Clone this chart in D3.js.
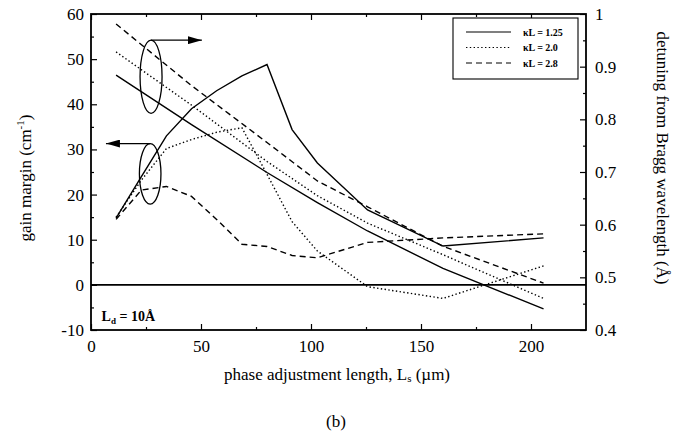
<!DOCTYPE html>
<html>
<head>
<meta charset="utf-8">
<script src="https://cdn.jsdelivr.net/npm/d3@7"></script>
<style>
  body { margin: 0; background: #fff; }
  text { font-family: "Liberation Serif", "DejaVu Serif", serif; fill: #000; }
</style>
</head>
<body>
<div id="chart"></div>
<script>
// phase adjustment length samples (um)
var lsGain = [11.4, 22.9, 34.3, 45.7, 57.1, 68.6, 80, 91.4, 102.9, 125.7, 160, 205.7];
var gain125 = [14.8, 24, 33, 39, 43, 46.3, 48.8, 34.4, 27, 16.6, 8.6, 10.4];
var gain20  = [15, 23.2, 30.2, 32.2, 33.8, 34.8, 24.5, 14, 7.5, -0.4, -3, 4.2];
var gain28  = [14.5, 21, 21.8, 19.6, 14.5, 9, 8.5, 6.5, 6, 9.4, 10.4, 11.3];

var lsDet = [11.4, 45.7, 80, 102.9, 125.7, 160, 205.7];
var det125 = [0.884, 0.790, 0.699, 0.642, 0.588, 0.517, 0.44];
var det20  = [0.928, 0.827, 0.720, 0.655, 0.603, 0.543, 0.46];
var det28  = [0.981, 0.864, 0.756, 0.683, 0.634, 0.559, 0.489];

var seriesNames = ["\u03baL = 1.25", "\u03baL = 2.0", "\u03baL = 2.8"];
var xTicks = [0, 50, 100, 150, 200];
var yLeftTicks = [-10, 0, 10, 20, 30, 40, 50, 60];
var yRightTicks = [0.4, 0.5, 0.6, 0.7, 0.8, 0.9, 1];

function getConfig(){
    let width = 677, height = 432;
    let margin = {top: 14, right: 91, bottom: 102, left: 91};
    let plot = {};
    plot.w = width - margin.left - margin.right;
    plot.h = height - margin.top - margin.bottom;
    plot.dash = ["none", "1.4,2.4", "6,4"];
    return {width, height, margin, plot};
}

var config = getConfig();
var m = config.margin, pw = config.plot.w, ph = config.plot.h;

var svg = d3.select("#chart").append("svg")
    .attr("width", config.width)
    .attr("height", config.height);

var defs = svg.append("defs");
defs.append("marker").attr("id", "arrow")
    .attr("viewBox", "0 0 14 8").attr("refX", 14).attr("refY", 4)
    .attr("markerWidth", 14).attr("markerHeight", 8)
    .attr("markerUnits", "userSpaceOnUse").attr("orient", "auto")
    .append("path").attr("d", "M0,0 L14,4 L0,8 Z").attr("fill", "#000");

var xScale = d3.scaleLinear().domain([0, 225]).range([0, pw]);
var yL = d3.scaleLinear().domain([-10, 60]).range([ph, 0]);
var yR = d3.scaleLinear().domain([0.4, 1]).range([ph, 0]);

var g = svg.append("g").attr("transform", `translate(${m.left},${m.top})`);

// axes, ticks pointing inward
function styleAx(sel){
    sel.call(s => s.select(".domain").remove());
    sel.selectAll(".tick line").attr("stroke", "#000").attr("stroke-width", 1.2);
    sel.selectAll(".tick text").attr("font-size", 17).attr("fill", "#000")
       .style("font-family", '"Liberation Serif", serif');
}
var minorX = d3.range(25, 225, 50);
var minorL = d3.range(-5, 60, 10);
var minorR = d3.range(0.45, 1, 0.1);

g.append("g").attr("transform", `translate(0,${ph})`)
    .call(d3.axisBottom(xScale).tickValues(xTicks).tickSize(-6).tickPadding(10)).call(styleAx);
g.append("g").attr("transform", `translate(0,${ph})`)
    .call(d3.axisBottom(xScale).tickValues(minorX).tickSize(-3).tickFormat("")).call(styleAx);
g.append("g")
    .call(d3.axisTop(xScale).tickValues(xTicks).tickSize(-6).tickFormat("")).call(styleAx);
g.append("g")
    .call(d3.axisTop(xScale).tickValues(minorX).tickSize(-3).tickFormat("")).call(styleAx);

g.append("g")
    .call(d3.axisLeft(yL).tickValues(yLeftTicks).tickSize(-6).tickPadding(7)
          .tickFormat(d => String(d))).call(styleAx);
g.append("g")
    .call(d3.axisLeft(yL).tickValues(minorL).tickSize(-3).tickFormat("")).call(styleAx);

g.append("g").attr("transform", `translate(${pw},0)`)
    .call(d3.axisRight(yR).tickValues(yRightTicks).tickSize(-6).tickPadding(9)
          .tickFormat(d => d === 1 ? "1" : d.toFixed(1))).call(styleAx);
g.append("g").attr("transform", `translate(${pw},0)`)
    .call(d3.axisRight(yR).tickValues(minorR).tickSize(-3).tickFormat("")).call(styleAx);

// frame
g.append("rect").attr("width", pw).attr("height", ph)
    .attr("fill", "none").attr("stroke", "#000").attr("stroke-width", 1.8);

// zero gain line
g.append("line")
    .attr("x1", 0).attr("x2", pw)
    .attr("y1", yL(0)).attr("y2", yL(0))
    .attr("stroke", "#000").attr("stroke-width", 1.6);

// curves
var gainSeries = [gain125, gain20, gain28];
var detSeries = [det125, det20, det28];

var lineL = d3.line().x(d => xScale(d[0])).y(d => yL(d[1]));
var lineR = d3.line().x(d => xScale(d[0])).y(d => yR(d[1]));

gainSeries.forEach(function(vals, i){
    g.append("path")
        .datum(lsGain.map((x, k) => [x, vals[k]]))
        .attr("d", lineL)
        .attr("fill", "none").attr("stroke", "#000").attr("stroke-width", 1.4)
        .attr("stroke-dasharray", config.plot.dash[i]);
});
detSeries.forEach(function(vals, i){
    g.append("path")
        .datum(lsDet.map((x, k) => [x, vals[k]]))
        .attr("d", lineR)
        .attr("fill", "none").attr("stroke", "#000").attr("stroke-width", 1.4)
        .attr("stroke-dasharray", config.plot.dash[i]);
});

// ellipses + arrows marking which axis each group uses
var ann = [
    {cx: 27.3, cy: 46.1, rx: 5, ry: 8.1, tip: 50.4},
    {cx: 26.9, cy: 24.6, rx: 4.9, ry: 6.7, tip: 6.8}
];
ann.forEach(function(a){
    let px = xScale(a.cx), py = yL(a.cy);
    let rxp = xScale(a.rx) - xScale(0), ryp = yL(0) - yL(a.ry);
    g.append("ellipse").attr("cx", px).attr("cy", py)
        .attr("rx", rxp).attr("ry", ryp)
        .attr("fill", "none").attr("stroke", "#000").attr("stroke-width", 1.3);
    g.append("line")
        .attr("x1", px).attr("y1", py - ryp)
        .attr("x2", xScale(a.tip)).attr("y2", py - ryp)
        .attr("stroke", "#000").attr("stroke-width", 1.3)
        .attr("marker-end", "url(#arrow)");
});

// legend
var leg = g.append("g").attr("transform", `translate(${453 - m.left},${18 - m.top})`);
leg.append("rect").attr("width", 125).attr("height", 61)
    .attr("fill", "#fff").attr("stroke", "#000").attr("stroke-width", 1.1);
seriesNames.forEach(function(name, i){
    let yy = 14 + i * 15.5;
    leg.append("line").attr("x1", 13).attr("x2", 58).attr("y1", yy).attr("y2", yy)
        .attr("stroke", "#000").attr("stroke-width", 1.2)
        .attr("stroke-dasharray", config.plot.dash[i]);
    leg.append("text").attr("x", 70).attr("y", yy + 3.5)
        .attr("font-size", 10).attr("font-weight", "bold").text(name);
});

// L_d note
var note = g.append("text").attr("x", xScale(4.8)).attr("y", yL(-7.9))
    .attr("font-size", 14).attr("font-weight", "bold");
note.append("tspan").text("L");
note.append("tspan").attr("font-size", 9).attr("dy", 3).text("d");
note.append("tspan").attr("dy", -3).text(" = 10\u00c5");

// axis titles
var lt = svg.append("text")
    .attr("transform", "translate(31,178) rotate(-90)")
    .attr("text-anchor", "middle").attr("font-size", 17);
lt.append("tspan").text("gain margin  (cm");
lt.append("tspan").attr("font-size", 11).attr("dy", -7).text("-1");
lt.append("tspan").attr("dy", 7).text(")");

svg.append("text")
    .attr("transform", "translate(657,158) rotate(90)")
    .attr("text-anchor", "middle").attr("font-size", 17)
    .text("detuning from Bragg wavelength (\u00c5)");

var xt = svg.append("text").attr("x", 337).attr("y", 380)
    .attr("text-anchor", "middle").attr("font-size", 17);
xt.append("tspan").text("phase adjustment length, L");
xt.append("tspan").attr("font-size", 11).attr("dy", 2).text("s");
xt.append("tspan").attr("dy", -2).text(" (\u00b5m)");

svg.append("text").attr("x", 336).attr("y", 427)
    .attr("text-anchor", "middle").attr("font-size", 17).text("(b)");
</script>
</body>
</html>
